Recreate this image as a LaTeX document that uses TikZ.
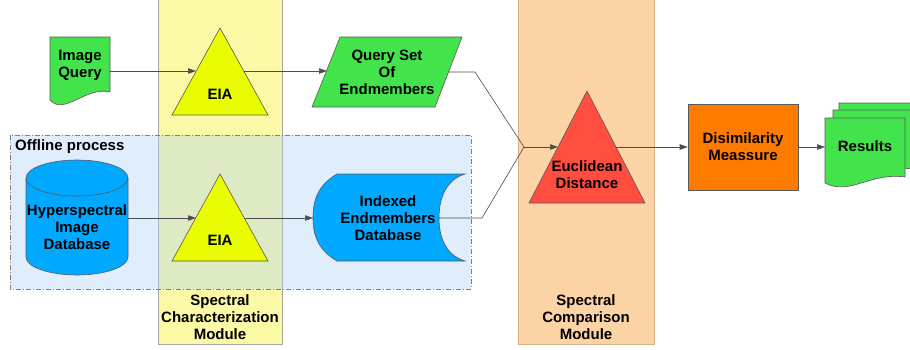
\documentclass[tikz,border=0pt]{standalone}
\usepackage{fontspec}
\setmainfont{Liberation Sans}
\usetikzlibrary{arrows.meta}
\definecolor{docgreen}{HTML}{43E34B}
\definecolor{eiayellow}{HTML}{EAFC00}
\definecolor{dbblue}{HTML}{00A8FF}
\definecolor{eucred}{HTML}{FF4D40}
\definecolor{disorange}{HTML}{FF7B00}
\definecolor{colyellow}{HTML}{FBF9A6}
\definecolor{colorange}{HTML}{FCD3A5}
\definecolor{offblue}{HTML}{ABD1F7}
\begin{document}
\begin{tikzpicture}[x=1pt, y=-1pt,
  outline/.style={draw=black!65, line width=0.6pt},
  txt/.style={font=\fontsize{15}{17}\selectfont\bfseries, align=center, inner sep=0pt},
  wire/.style={draw=black!70, line width=0.6pt},
  flow/.style={wire, -{Triangle[length=8pt,width=5.5pt]}}]
  \useasboundingbox (0,0) rectangle (910,349);
  % Module columns
  \filldraw[fill=colyellow, draw=black!35, line width=0.8pt] (158,-2) rectangle (282,344);
  \filldraw[fill=colorange, draw=brown!60, line width=0.8pt] (518,-2) rectangle (654,344);
  % Offline process region
  \fill[offblue, fill opacity=0.37] (10,135) rectangle (471,289);
  \draw[gray, line width=0.7pt, dash pattern=on 5pt off 2pt on 1pt off 2pt] (10,135) rectangle (471,289);
  \node[txt, anchor=west] (offline) at (15,147) {Offline process};
  % Image query document
  \filldraw[outline, fill=docgreen] (50,37) -- (110,37) -- (110,92)
    .. controls (86,86) and (64,116) .. (50,100) -- cycle;
  \node[txt] (query) at (80,65) {Image\\Query};
  % EIA triangles
  \filldraw[outline, fill=eiayellow] (220,28) -- (268,115) -- (172,115) -- cycle;
  \filldraw[outline, fill=eiayellow] (220,174) -- (268,261) -- (172,261) -- cycle;
  \node[txt] (eia1) at (220,94) {EIA};
  \node[txt] (eia2) at (220,240) {EIA};
  % Query set of endmembers
  \filldraw[outline, fill=docgreen] (340,37) -- (462,37) -- (435,107) -- (312,107) -- cycle;
  \node[txt] (qset) at (387,72) {Query Set\\Of\\Endmembers};
  % Hyperspectral image database (cylinder)
  \filldraw[outline, fill=dbblue] (26,178) -- (26,257)
    arc[start angle=180, end angle=0, x radius=51, y radius=18] -- (128,178)
    arc[start angle=0, end angle=-180, x radius=51, y radius=18] -- cycle;
  \draw[outline] (26,178) arc[start angle=180, end angle=0, x radius=51, y radius=18];
  \node[txt] (hsi) at (77,227) {Hyperspectral\\Image\\Database};
  % Indexed endmembers database (stored data)
  \filldraw[outline, fill=dbblue] (337,174) -- (465,174)
    .. controls (445,180) and (439,200) .. (439,218)
    .. controls (439,236) and (445,255) .. (465,261) -- (337,261)
    .. controls (318,250) and (313,235) .. (313,218)
    .. controls (313,200) and (318,185) .. (337,174) -- cycle;
  \node[txt] (idx) at (388,218) {Indexed\\Endmembers\\Database};
  % Euclidean distance
  \filldraw[outline, fill=eucred] (587,91) -- (645,203) -- (529,203) -- cycle;
  \node[txt] (euc) at (587,175) {Euclidean\\Distance};
  % Disimilarity measure
  \node[txt, outline, fill=disorange, minimum width=110pt, minimum height=86pt]
    (dis) at (743,147) {Disimilarity\\Meassure};
  % Results (stacked documents)
  \foreach \dx/\dy in {14/-15, 8/-8, 0/0}{
    \filldraw[outline, fill=docgreen, shift={(\dx,\dy)}] (825,118) -- (905,118) -- (905,177)
      .. controls (870,172) and (850,196) .. (825,183) -- cycle;
  }
  \node[txt] (res) at (865,146) {Results};
  % Connection points
  \coordinate (query-e) at (110,71);
  \coordinate (eia1-w) at (196,71);
  \coordinate (eia1-e) at (244,71);
  \coordinate (qset-w) at (327,71);
  \coordinate (qset-e) at (448,72);
  \coordinate (hsi-e) at (128,218);
  \coordinate (eia2-w) at (196,218);
  \coordinate (eia2-e) at (244,218);
  \coordinate (idx-w) at (313,218);
  \coordinate (idx-e) at (439,218);
  \coordinate (join) at (524,147);
  \coordinate (euc-w) at (558,147);
  \coordinate (euc-e) at (616,147);
  \coordinate (res-w) at (825,147);
  % Connectors
  \draw[flow] (query-e) -- (eia1-w);
  \draw[flow] (eia1-e) -- (qset-w);
  \draw[flow] (hsi-e) -- (eia2-w);
  \draw[flow] (eia2-e) -- (idx-w);
  \draw[wire] (qset-e) -- (475,72) -- (join);
  \draw[wire] (idx-e) -- (482,218) -- (join);
  \draw[flow] (join) -- (euc-w);
  \draw[flow] (euc-e) -- (dis.west);
  \draw[flow] (dis.east) -- (res-w);
  % Module labels
  \node[txt] (charmod) at (220,317) {Spectral\\Characterization\\Module};
  \node[txt] (compmod) at (586,317) {Spectral\\Comparison\\Module};
\end{tikzpicture}
\end{document}
